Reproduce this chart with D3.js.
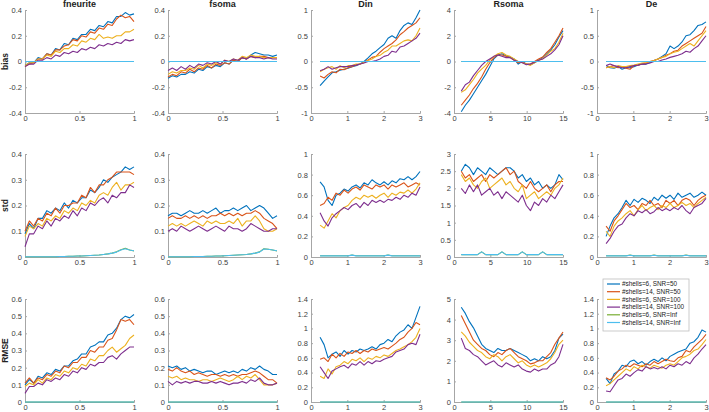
<!DOCTYPE html>
<html>
<head>
<meta charset="utf-8">
<script src="https://cdn.jsdelivr.net/npm/d3@7"></script>
<style>
  body { margin: 0; background: #fff; }
  svg { display: block; }
  text { font-family: "Liberation Sans", Arial, sans-serif; }
</style>
</head>
<body>
<div id="chart"></div>
<script>
const [width, height] = [709, 412];

const colNames = ["fneurite", "fsoma", "Din", "Rsoma", "De"];
const rowNames = ["bias", "std", "RMSE"];
const seriesNames = ["#shells=6, SNR=50", "#shells=14, SNR=50", "#shells=6, SNR=100",
                     "#shells=14, SNR=100", "#shells=6, SNR=Inf", "#shells=14, SNR=Inf"];
const colors = ["#0072BD", "#D95319", "#EDB120", "#7E2F8E", "#77AC30", "#4DBEEE"];

// sample positions for each column
const xFrac = [0,.04,.08,.12,.16,.2,.24,.28,.32,.36,.4,.44,.48,.52,.56,.6,.64,.68,.72,.76,.8,.84,.88,.92,.96,1];
const xDiff = [.25,.36,.47,.58,.69,.8,.91,1.02,1.13,1.24,1.35,1.46,1.57,1.68,1.79,1.9,2.01,2.12,2.23,2.34,2.45,2.56,2.67,2.78,2.89,3];
const xRsoma = [1,1.56,2.12,2.68,3.24,3.8,4.36,4.92,5.48,6.04,6.6,7.16,7.72,8.28,8.84,9.4,9.96,10.52,11.08,11.64,12.2,12.76,13.32,13.88,14.44,15];
const xCols = [xFrac, xFrac, xDiff, xRsoma, xDiff];

const xTicks = [[0,0.5,1],[0,0.5,1],[0,1,2,3],[0,5,10,15],[0,1,2,3]];
const yTicksBias = [[-0.4,-0.2,0,0.2,0.4],[-0.4,-0.2,0,0.2,0.4],[-1,-0.5,0,0.5,1],[-4,-2,0,2,4],[-1,-0.5,0,0.5,1]];
const yTicksStd = [[0,0.1,0.2,0.3,0.4],[0,0.1,0.2,0.3,0.4],[0,0.2,0.4,0.6,0.8,1],[0,0.5,1,1.5,2,2.5,3],[0,0.2,0.4,0.6,0.8,1]];
const yTicksRmse = [[0,0.1,0.2,0.3,0.4,0.5,0.6],[0,0.1,0.2,0.3,0.4,0.5,0.6],[0,0.2,0.4,0.6,0.8,1,1.2,1.4],[0,1,2,3,4,5],[0,0.2,0.4,0.6,0.8,1,1.2,1.4]];

const zeros = [0,0,0,0,0,0,0,0,0,0,0,0,0,0,0,0,0,0,0,0,0,0,0,0,0,0];

// ---- bias ----
const biasFneurite = [
  [-0.03,-0.01,-0.01,0.03,0.02,0.06,0.05,0.1,0.09,0.14,0.13,0.18,0.17,0.21,0.21,0.25,0.24,0.28,0.27,0.31,0.3,0.35,0.35,0.38,0.36,0.37],
  [-0.04,-0.02,-0.01,0.02,0.02,0.06,0.05,0.09,0.09,0.12,0.13,0.17,0.16,0.2,0.19,0.23,0.22,0.26,0.25,0.29,0.28,0.33,0.36,0.34,0.35,0.31],
  [-0.03,-0.01,-0.01,0.02,0.02,0.05,0.04,0.08,0.07,0.1,0.1,0.13,0.12,0.16,0.15,0.18,0.17,0.21,0.18,0.19,0.18,0.2,0.2,0.23,0.23,0.25],
  [-0.04,-0.02,-0.02,0.01,0.01,0.03,0.02,0.05,0.04,0.07,0.06,0.08,0.07,0.1,0.09,0.11,0.1,0.13,0.12,0.14,0.13,0.15,0.14,0.17,0.16,0.17],
  zeros, zeros];
const biasFsoma = [
  [-0.13,-0.11,-0.12,-0.1,-0.1,-0.08,-0.09,-0.06,-0.07,-0.04,-0.05,-0.03,-0.04,-0.01,-0.02,0.01,0,0.03,0.02,0.05,0.07,0.06,0.05,0.05,0.04,0.05],
  [-0.12,-0.1,-0.11,-0.08,-0.09,-0.06,-0.08,-0.05,-0.06,-0.03,-0.05,-0.02,-0.03,-0.01,-0.02,0.01,0,0.03,0.02,0.04,0.03,0.04,0.04,0.03,0.03,0.03],
  [-0.1,-0.08,-0.09,-0.07,-0.07,-0.05,-0.06,-0.03,-0.05,-0.02,-0.03,-0.01,-0.02,0.01,0,0.02,0.01,0.04,0.03,0.05,0.04,0.04,0.03,0.03,0.03,0.03],
  [-0.07,-0.05,-0.07,-0.04,-0.06,-0.03,-0.05,-0.02,-0.03,-0.01,-0.02,0,-0.02,0.01,0,0.02,0.01,0.03,0.02,0.04,0.03,0.03,0.02,0.03,0.02,0.02],
  zeros, zeros];
const biasDin = [
  [-0.47,-0.38,-0.3,-0.22,-0.2,-0.17,-0.15,-0.13,-0.1,-0.08,-0.05,0,0.07,0.15,0.2,0.27,0.33,0.45,0.5,0.45,0.6,0.7,0.75,0.72,0.85,1],
  [-0.28,-0.32,-0.25,-0.2,-0.22,-0.15,-0.16,-0.12,-0.1,-0.07,-0.05,-0.02,0.03,0.08,0.1,0.18,0.25,0.3,0.35,0.42,0.52,0.58,0.65,0.7,0.75,0.85],
  [-0.2,-0.15,-0.12,-0.1,-0.15,-0.08,-0.12,-0.08,-0.08,-0.05,-0.05,-0.02,0.02,0.05,0.1,0.12,0.18,0.22,0.3,0.3,0.35,0.4,0.42,0.4,0.5,0.65],
  [-0.18,-0.15,-0.1,-0.15,-0.12,-0.1,-0.1,-0.1,-0.08,-0.07,-0.05,-0.03,0,0,0.02,0.05,0.1,0.12,0.2,0.18,0.28,0.3,0.35,0.4,0.45,0.55],
  zeros, zeros];
const biasRsoma = [
  [-3.9,-3.4,-3,-2.5,-2,-1.5,-1,-0.4,0.2,0.5,0.6,0.45,0.35,0.2,-0.2,0,-0.2,-0.25,-0.1,0.1,0.3,0.6,0.9,1.3,1.9,2.4],
  [-3.4,-3,-2.6,-2.1,-1.7,-1.2,-0.6,-0.1,0.3,0.5,0.5,0.4,0.3,0.1,-0.1,-0.05,-0.2,-0.2,0,0.2,0.35,0.7,1,1.5,2,2.6],
  [-2.4,-2.2,-1.8,-1.4,-0.9,-0.6,-0.3,0.1,0.4,0.6,0.7,0.5,0.4,0.2,0,-0.1,-0.2,-0.3,-0.1,0.1,0.2,0.5,0.8,1,1.5,2.2],
  [-2.3,-1.8,-1.6,-1.1,-0.7,-0.3,0,0.2,0.4,0.5,0.4,0.3,0.3,0.1,0,-0.1,-0.25,-0.2,-0.05,0.1,0.2,0.4,0.6,0.9,1.3,2],
  zeros, zeros];
const biasDe = [
  [-0.08,-0.12,-0.13,-0.1,-0.15,-0.12,-0.12,-0.1,-0.07,-0.05,-0.05,-0.02,0.02,0.05,0.1,0.15,0.3,0.25,0.3,0.38,0.5,0.52,0.6,0.7,0.72,0.77],
  [-0.12,-0.1,-0.08,-0.12,-0.1,-0.13,-0.15,-0.08,-0.07,-0.05,-0.03,0,0.02,0.05,0.08,0.12,0.15,0.2,0.22,0.3,0.35,0.4,0.45,0.5,0.55,0.68],
  [-0.12,-0.1,-0.12,-0.08,-0.1,-0.1,-0.08,-0.07,-0.05,-0.03,-0.02,0,0.02,0.05,0.08,0.1,0.15,0.18,0.2,0.25,0.3,0.35,0.3,0.4,0.5,0.6],
  [-0.08,-0.05,-0.08,-0.1,-0.12,-0.12,-0.1,-0.08,-0.07,-0.05,-0.05,-0.03,0,0,0.03,0.05,0.08,0.1,0.12,0.15,0.2,0.18,0.25,0.3,0.4,0.5],
  zeros, zeros];

// ---- std ----
const stdFneurite = [
  [0.09,0.13,0.11,0.15,0.15,0.18,0.17,0.19,0.18,0.21,0.19,0.22,0.21,0.23,0.23,0.26,0.25,0.27,0.3,0.29,0.31,0.32,0.33,0.35,0.34,0.35],
  [0.1,0.14,0.12,0.15,0.14,0.17,0.16,0.19,0.17,0.2,0.2,0.21,0.21,0.24,0.23,0.27,0.25,0.28,0.28,0.3,0.31,0.33,0.33,0.33,0.33,0.32],
  [0.08,0.12,0.11,0.13,0.12,0.15,0.14,0.16,0.15,0.18,0.17,0.19,0.18,0.21,0.2,0.22,0.21,0.24,0.25,0.24,0.27,0.29,0.26,0.28,0.28,0.29],
  [0.04,0.09,0.09,0.12,0.11,0.14,0.12,0.15,0.14,0.16,0.15,0.18,0.16,0.19,0.18,0.21,0.2,0.22,0.23,0.21,0.24,0.23,0.25,0.25,0.28,0.27],
  [0.001,0.001,0.001,0.001,0.001,0.001,0.001,0.001,0.002,0.002,0.003,0.003,0.004,0.004,0.005,0.006,0.007,0.008,0.01,0.012,0.015,0.02,0.028,0.034,0.027,0.023],
  [0.001,0.001,0.001,0.001,0.001,0.001,0.001,0.001,0.002,0.002,0.003,0.003,0.004,0.004,0.005,0.006,0.007,0.008,0.01,0.012,0.015,0.019,0.027,0.032,0.027,0.024]];
const stdFsoma = [
  [0.16,0.17,0.17,0.16,0.17,0.18,0.17,0.17,0.18,0.17,0.18,0.19,0.17,0.18,0.18,0.19,0.18,0.19,0.2,0.18,0.19,0.2,0.19,0.17,0.15,0.16],
  [0.15,0.16,0.15,0.15,0.16,0.15,0.16,0.15,0.16,0.15,0.16,0.16,0.17,0.16,0.17,0.16,0.17,0.16,0.17,0.17,0.18,0.17,0.15,0.14,0.13,0.11],
  [0.12,0.13,0.12,0.13,0.12,0.13,0.14,0.13,0.12,0.14,0.13,0.14,0.13,0.13,0.14,0.13,0.15,0.12,0.14,0.14,0.16,0.14,0.11,0.1,0.1,0.11],
  [0.1,0.11,0.1,0.12,0.11,0.1,0.11,0.12,0.11,0.1,0.11,0.12,0.11,0.1,0.12,0.11,0.11,0.1,0.11,0.13,0.12,0.11,0.1,0.1,0.11,0.11],
  [0.001,0.001,0.001,0.001,0.001,0.001,0.002,0.002,0.002,0.003,0.003,0.004,0.004,0.005,0.006,0.007,0.008,0.009,0.01,0.012,0.015,0.02,0.032,0.03,0.027,0.023],
  [0.001,0.001,0.001,0.001,0.001,0.001,0.002,0.002,0.002,0.003,0.003,0.004,0.004,0.005,0.006,0.007,0.008,0.009,0.01,0.012,0.015,0.019,0.031,0.03,0.027,0.024]];
const stdDin = [
  [0.73,0.68,0.55,0.5,0.6,0.62,0.66,0.64,0.68,0.7,0.67,0.72,0.7,0.75,0.72,0.7,0.73,0.7,0.74,0.72,0.76,0.75,0.78,0.75,0.78,0.83],
  [0.5,0.52,0.58,0.55,0.62,0.6,0.65,0.62,0.66,0.68,0.65,0.7,0.68,0.66,0.7,0.68,0.7,0.66,0.7,0.68,0.7,0.72,0.68,0.7,0.72,0.7],
  [0.31,0.28,0.35,0.42,0.38,0.45,0.48,0.5,0.55,0.58,0.56,0.6,0.58,0.6,0.57,0.6,0.62,0.58,0.62,0.6,0.63,0.62,0.65,0.62,0.66,0.72],
  [0.43,0.35,0.3,0.38,0.42,0.45,0.48,0.46,0.5,0.52,0.48,0.53,0.5,0.55,0.53,0.55,0.53,0.56,0.55,0.58,0.56,0.6,0.58,0.62,0.6,0.68],
  [0.012,0.012,0.012,0.012,0.012,0.012,0.012,0.012,0.02,0.012,0.012,0.012,0.012,0.012,0.012,0.012,0.012,0.019,0.012,0.012,0.012,0.012,0.012,0.012,0.012,0.012],
  [0.011,0.011,0.011,0.011,0.011,0.011,0.011,0.011,0.018,0.011,0.011,0.011,0.011,0.011,0.011,0.011,0.011,0.018,0.011,0.011,0.011,0.011,0.011,0.011,0.011,0.011]];
const stdRsoma = [
  [2.5,2.7,2.6,2.4,2.6,2.5,2.4,2.6,2.5,2.4,2.5,2.6,2.6,2.5,2.3,2.4,2.2,2.3,2.1,2.2,2,2.1,2,2.1,2.4,2.25],
  [2.5,2.3,2.4,2.2,2.3,2.4,2.2,2.4,2.3,2.4,2.5,2.6,2.4,2.5,2.2,2.1,2,2.2,2,1.9,2,2.1,1.9,2.1,2.2,2.2],
  [2.4,2.2,2.3,2.1,2,2.2,2.3,2,2.1,2.2,2.3,2.1,2.2,2,1.9,2.1,1.7,1.8,1.9,1.7,1.8,1.9,1.8,2,2.1,2.3],
  [2,1.85,2.1,1.9,2.1,1.8,1.9,2,1.8,1.9,1.7,1.9,1.8,1.7,1.6,1.8,1.5,1.35,1.6,1.5,1.7,1.6,1.8,1.7,1.9,2.1],
  [0.07,0.07,0.07,0.07,0.07,0.15,0.07,0.07,0.07,0.07,0.15,0.07,0.07,0.07,0.07,0.15,0.07,0.07,0.07,0.07,0.15,0.07,0.07,0.07,0.07,0.07],
  [0.07,0.07,0.07,0.07,0.07,0.15,0.07,0.07,0.07,0.07,0.15,0.07,0.07,0.07,0.07,0.15,0.07,0.07,0.07,0.07,0.15,0.07,0.07,0.07,0.07,0.07]];
const stdDe = [
  [0.2,0.3,0.38,0.42,0.48,0.55,0.5,0.56,0.53,0.57,0.55,0.52,0.58,0.55,0.6,0.57,0.6,0.56,0.62,0.58,0.6,0.62,0.58,0.6,0.63,0.6],
  [0.3,0.25,0.35,0.4,0.46,0.52,0.48,0.5,0.46,0.52,0.5,0.55,0.5,0.52,0.48,0.55,0.52,0.55,0.5,0.55,0.57,0.55,0.5,0.55,0.58,0.6],
  [0.25,0.2,0.3,0.35,0.38,0.42,0.45,0.4,0.46,0.5,0.45,0.48,0.5,0.46,0.5,0.48,0.52,0.48,0.5,0.53,0.5,0.52,0.48,0.52,0.55,0.58],
  [0.13,0.18,0.25,0.3,0.32,0.38,0.42,0.4,0.45,0.43,0.46,0.42,0.44,0.48,0.45,0.47,0.45,0.48,0.46,0.5,0.45,0.42,0.48,0.5,0.52,0.57],
  [0.012,0.012,0.012,0.012,0.012,0.012,0.018,0.012,0.012,0.012,0.012,0.012,0.018,0.012,0.012,0.012,0.012,0.012,0.012,0.012,0.018,0.012,0.012,0.012,0.012,0.012],
  [0.011,0.011,0.011,0.011,0.011,0.011,0.017,0.011,0.011,0.011,0.011,0.011,0.017,0.011,0.011,0.011,0.011,0.011,0.011,0.011,0.017,0.011,0.011,0.011,0.011,0.011]];

// ---- RMSE ----
const rmseFneurite = [
  [0.1,0.13,0.11,0.15,0.14,0.17,0.16,0.19,0.18,0.21,0.21,0.24,0.25,0.28,0.28,0.32,0.33,0.35,0.35,0.39,0.4,0.43,0.48,0.5,0.49,0.51],
  [0.11,0.14,0.11,0.14,0.13,0.16,0.15,0.18,0.17,0.21,0.2,0.23,0.23,0.26,0.26,0.3,0.29,0.32,0.32,0.36,0.37,0.42,0.48,0.47,0.48,0.45],
  [0.09,0.11,0.1,0.13,0.11,0.14,0.13,0.16,0.15,0.18,0.17,0.2,0.19,0.22,0.21,0.25,0.24,0.27,0.27,0.3,0.32,0.29,0.31,0.33,0.37,0.39],
  [0.05,0.09,0.09,0.11,0.1,0.13,0.12,0.14,0.13,0.16,0.15,0.18,0.17,0.2,0.19,0.22,0.21,0.23,0.23,0.26,0.27,0.25,0.28,0.3,0.32,0.32],
  zeros, zeros];
const rmseFsoma = [
  [0.21,0.2,0.21,0.19,0.2,0.18,0.19,0.18,0.17,0.18,0.18,0.16,0.17,0.18,0.17,0.18,0.17,0.19,0.18,0.2,0.19,0.21,0.19,0.18,0.16,0.16],
  [0.19,0.18,0.2,0.18,0.17,0.18,0.16,0.17,0.16,0.15,0.16,0.16,0.15,0.16,0.15,0.16,0.15,0.16,0.16,0.17,0.18,0.17,0.15,0.13,0.13,0.11],
  [0.15,0.14,0.15,0.13,0.14,0.13,0.13,0.12,0.13,0.13,0.12,0.13,0.14,0.13,0.12,0.13,0.15,0.13,0.15,0.14,0.16,0.13,0.1,0.1,0.1,0.11],
  [0.12,0.1,0.12,0.11,0.12,0.11,0.12,0.12,0.11,0.11,0.12,0.11,0.12,0.11,0.1,0.11,0.11,0.12,0.11,0.13,0.12,0.14,0.11,0.1,0.1,0.11],
  zeros, zeros];
const rmseDin = [
  [0.88,0.78,0.6,0.65,0.68,0.62,0.7,0.65,0.7,0.68,0.72,0.7,0.72,0.75,0.72,0.78,0.8,0.85,0.82,0.9,0.95,0.98,1.05,1,1.15,1.3],
  [0.58,0.6,0.55,0.65,0.6,0.66,0.62,0.68,0.66,0.7,0.66,0.7,0.68,0.72,0.7,0.72,0.74,0.72,0.76,0.8,0.85,0.88,0.95,1,1.08,1.05],
  [0.35,0.32,0.45,0.38,0.48,0.5,0.55,0.52,0.58,0.56,0.6,0.55,0.6,0.58,0.62,0.6,0.64,0.62,0.66,0.7,0.72,0.75,0.78,0.82,0.88,1],
  [0.48,0.4,0.32,0.42,0.45,0.48,0.5,0.46,0.52,0.5,0.55,0.5,0.55,0.52,0.56,0.55,0.58,0.6,0.62,0.68,0.7,0.72,0.78,0.8,0.78,0.92],
  zeros, zeros];
const rmseRsoma = [
  [4.6,4.3,3.9,3.6,3.2,2.8,2.6,2.5,2.4,2.6,2.5,2.5,2.6,2.5,2.4,2.3,2.2,2,2.1,2,2.2,2.1,2.2,2.5,3.1,3.3],
  [4.2,3.8,3.4,3,2.8,2.6,2.5,2.3,2.2,2.4,2.3,2.5,2.6,2.4,2.2,2.1,2,1.85,1.9,2,2,2.2,2.4,2.8,3.1,3.4],
  [3.4,3.2,2.9,2.7,2.5,2.4,2.2,2.1,2.3,2.2,2,2.2,2.3,2.1,1.9,2,1.8,1.7,1.8,1.7,1.8,1.9,2.1,2.4,2.8,3],
  [3.1,2.6,2.5,2.3,2.2,2,1.8,1.9,2,1.8,1.7,1.9,1.8,1.7,1.8,1.6,1.5,1.45,1.6,1.5,1.6,1.6,1.8,1.9,2.2,2.8],
  zeros, zeros];
const rmseDe = [
  [0.32,0.25,0.38,0.42,0.5,0.48,0.55,0.57,0.52,0.55,0.5,0.55,0.58,0.55,0.6,0.56,0.62,0.65,0.68,0.7,0.72,0.8,0.82,0.88,0.98,0.95],
  [0.33,0.3,0.35,0.42,0.45,0.5,0.48,0.52,0.5,0.48,0.52,0.5,0.55,0.52,0.55,0.58,0.56,0.55,0.6,0.62,0.7,0.68,0.75,0.8,0.85,0.92],
  [0.22,0.25,0.3,0.35,0.4,0.45,0.42,0.48,0.45,0.5,0.48,0.46,0.5,0.48,0.46,0.5,0.52,0.5,0.55,0.6,0.62,0.65,0.7,0.72,0.78,0.85],
  [0.15,0.14,0.22,0.3,0.32,0.38,0.35,0.4,0.44,0.42,0.48,0.45,0.47,0.45,0.48,0.45,0.5,0.48,0.52,0.5,0.55,0.52,0.6,0.65,0.72,0.78],
  zeros, zeros];

const panelData = [
  [biasFneurite, biasFsoma, biasDin, biasRsoma, biasDe],
  [stdFneurite, stdFsoma, stdDin, stdRsoma, stdDe],
  [rmseFneurite, rmseFsoma, rmseDin, rmseRsoma, rmseDe]];
const panelYTicks = [yTicksBias, yTicksStd, yTicksRmse];

// layout
const colLeft = [25, 168, 311, 454, 597];
const rowTop = [10, 154, 299];
const pw = 109, ph = 103;

const svg = d3.select("#chart")
  .append("svg")
  .attr("width", width)
  .attr("height", height);

rowNames.forEach((rname, r) => {
  colNames.forEach((cname, c) => {
    const g = svg.append("g")
      .attr("transform", `translate(${colLeft[c]}, ${rowTop[r]})`);

    const xt = xTicks[c];
    const yt = panelYTicks[r][c];
    const x = d3.scaleLinear().domain([xt[0], xt[xt.length - 1]]).range([0, pw]);
    const y = d3.scaleLinear().domain([yt[0], yt[yt.length - 1]]).range([ph, 0]);

    const xAxis = g.append("g")
      .attr("transform", `translate(0, ${ph})`)
      .call(d3.axisBottom(x).tickValues(xt).tickFormat(d => String(d)).tickSize(-2).tickPadding(3));
    const yAxis = g.append("g")
      .call(d3.axisLeft(y).tickValues(yt).tickFormat(d => String(d)).tickSize(-2).tickPadding(3));

    [xAxis, yAxis].forEach(a => {
      a.select(".domain").attr("stroke", "#a6a6a6");
      a.selectAll(".tick line").attr("stroke", "#a6a6a6");
      a.selectAll(".tick text").attr("fill", "#404040").style("font-size", "7.5px");
    });

    const xs = xCols[c];
    const line = d3.line()
      .x((d, i) => x(xs[i]))
      .y(d => y(d));

    panelData[r][c].forEach((vals, s) => {
      g.append("path")
        .datum(vals)
        .attr("fill", "none")
        .attr("stroke", colors[s])
        .attr("stroke-width", 1.1)
        .attr("stroke-linejoin", "round")
        .attr("d", line);
    });

    if (r === 0) {
      g.append("text")
        .attr("x", pw / 2)
        .attr("y", -3)
        .attr("text-anchor", "middle")
        .style("font-size", "9px")
        .style("font-weight", "bold")
        .attr("fill", "#222")
        .text(cname);
    }
  });

  // row label
  svg.append("text")
    .attr("transform", `translate(8, ${rowTop[r] + ph / 2}) rotate(-90)`)
    .attr("text-anchor", "middle")
    .style("font-size", "8.5px")
    .style("font-weight", "bold")
    .attr("fill", "#222")
    .text(rname);
});

// legend
const legend = svg.append("g").attr("transform", "translate(603, 279)");
legend.append("rect")
  .attr("width", 86).attr("height", 52)
  .attr("fill", "#fff").attr("stroke", "#bdbdbd").attr("stroke-width", 0.8);
seriesNames.forEach((name, i) => {
  const yy = 5 + i * 7.7;
  legend.append("line")
    .attr("x1", 4).attr("x2", 17).attr("y1", yy).attr("y2", yy)
    .attr("stroke", colors[i]).attr("stroke-width", 1.2);
  legend.append("text")
    .attr("x", 19).attr("y", yy + 2.2)
    .style("font-size", "6.4px")
    .attr("fill", "#222")
    .text(name);
});
</script>
</body>
</html>
